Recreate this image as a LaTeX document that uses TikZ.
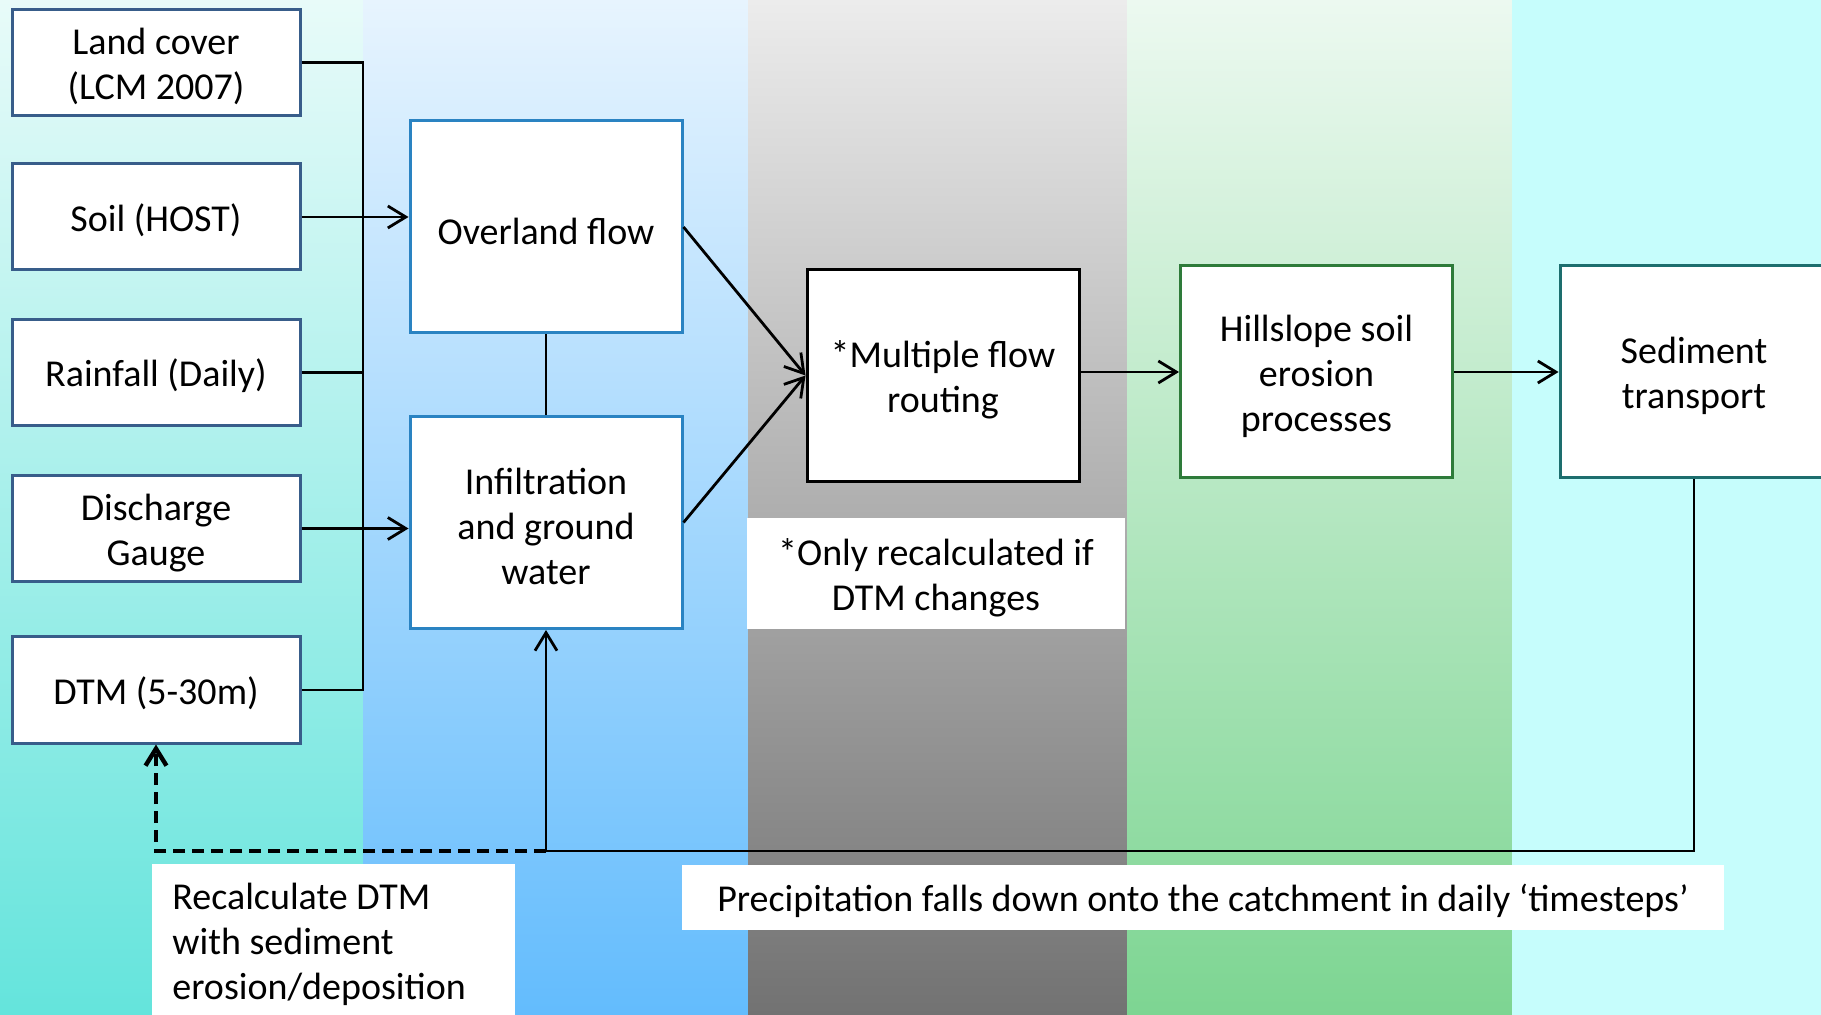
\documentclass[tikz,border=0pt]{standalone}
\usepackage{fontspec}
\setmainfont{Carlito}
\usetikzlibrary{arrows.meta}

% band shading colours
\definecolor{bandAtop}{HTML}{E8FBF9}
\definecolor{bandAbot}{HTML}{64E4DC}
\definecolor{bandBtop}{HTML}{E7F4FE}
\definecolor{bandBbot}{HTML}{63BCFD}
\definecolor{bandCtop}{HTML}{ECECEC}
\definecolor{bandCbot}{HTML}{727272}
\definecolor{bandDtop}{HTML}{ECF9F0}
\definecolor{bandDbot}{HTML}{7DD592}
\definecolor{bandE}{HTML}{C6FDFC}
% box outlines
\definecolor{inputblue}{HTML}{385D8A}
\definecolor{waterblue}{HTML}{2A83C2}
\definecolor{erosiongreen}{HTML}{2E7B3A}
\definecolor{sedteal}{HTML}{1D6E6E}

\begin{document}
\begin{tikzpicture}[x=0.5pt,y=-0.5pt,
  txt/.style={font=\fontsize{19}{22.5}\selectfont},
  % a tall invisible strut on the first line sets the text a little lower
  lowered/.style={execute at begin node={\rule{0pt}{17.5pt}}},
  box/.style={txt, lowered, draw, fill=white, line width=1.5pt, inner sep=0pt, align=flush center},
  inbox/.style={box, draw=inputblue, minimum width=144pt, minimum height=53pt, text width=140pt},
  procbox/.style={box, minimum width=136pt, minimum height=106pt, text width=132pt},
  note/.style={txt, fill=white, inner sep=0pt, align=flush center},
  wire/.style={line width=1.4pt},
  tip/.style={-{Straight Barb[length=9pt,width=11pt,line width=1.4pt]}},
  dashwire/.style={line width=1.9pt, dash pattern=on 6pt off 3.5pt},
  boldtip/.style={-{Straight Barb[length=8.5pt,width=10.5pt,line width=2.2pt]}}
]
\useasboundingbox (0,0) rectangle (1821,1015);
\clip (0,0) rectangle (1821,1015);

% background bands
\shade[top color=bandAtop, bottom color=bandAbot] (0,0) rectangle (363,1015);
\shade[top color=bandBtop, bottom color=bandBbot] (363,0) rectangle (748,1015);
\shade[top color=bandCtop, bottom color=bandCbot] (748,0) rectangle (1127,1015);
\shade[top color=bandDtop, bottom color=bandDbot] (1127,0) rectangle (1512,1015);
\fill[bandE] (1512,0) rectangle (1821,1015);

% input data
\node[inbox] (land)  at (156,62.5)  {Land cover\\(LCM 2007)};
\node[inbox] (soil)  at (156,217)   {Soil (HOST)};
\node[inbox] (rain)  at (156,372.5) {Rainfall (Daily)};
\node[inbox] (disch) at (156,528.5) {Discharge\\Gauge};
\node[inbox] (dtm)   at (156,690)   {DTM (5-30m)};

% hydrology
\node[procbox, draw=waterblue] (overland) at (546,227)   {Overland flow};
\node[procbox, draw=waterblue] (infil)    at (546,522.5) {Infiltration\\and ground\\water};

% routing and erosion
\node[procbox, draw=black] (mfr)  at (943,375.5) {*Multiple flow\\routing};
\node[procbox, draw=erosiongreen] (hill) at (1316.5,372) {Hillslope soil\\erosion\\processes};
\node[procbox, draw=sedteal, minimum width=134pt] (sed) at (1694,372) {Sediment\\transport};

% notes
\node[note, lowered, minimum width=189pt, minimum height=55.5pt, text width=185pt] (onlynote) at (936,573.5)
  {*Only recalculated if\\DTM changes};
\node[note, lowered, minimum width=521pt, minimum height=32.5pt, text width=517pt] (precip) at (1203,897.5)
  {Precipitation falls down onto the catchment in daily ‘timesteps’};
\node[note, anchor=north west, align=flush left, inner xsep=10pt, inner ysep=9.5pt,
      text width=161.5pt, minimum height=80pt] (recalc) at (152,864)
  {Recalculate DTM\\with sediment\\erosion/deposition};

% input bus
\coordinate (busx) at (363,0);
\coordinate (loopy) at (0,851);
\draw[wire] (land.east) -- (land.east -| busx) -- (dtm.east -| busx) -- (dtm.east);
\draw[wire] (rain.east) -- (rain.east -| busx);
\draw[wire,tip] (soil.east) -- (soil.east -| overland.west);
\draw[wire,tip] (disch.east) -- (disch.east -| infil.west);

% process chain
\draw[wire] (overland) -- (infil);
\draw[wire,tip] (overland.east) -- (mfr.west);
\draw[wire,tip] (infil.east) -- (mfr.west);
\draw[wire,tip] (mfr.east |- hill.west) -- (hill.west);
\draw[wire,tip] (hill) -- (sed);

% daily loop back
\draw[wire] (sed.south) -- (sed.south |- loopy) -- (infil.south |- loopy);
\draw[wire,tip] (infil.south |- loopy) -- (infil.south);
\draw[dashwire,boldtip] (infil.south |- loopy) -- (dtm.south |- loopy) -- (dtm.south);
\end{tikzpicture}
\end{document}
